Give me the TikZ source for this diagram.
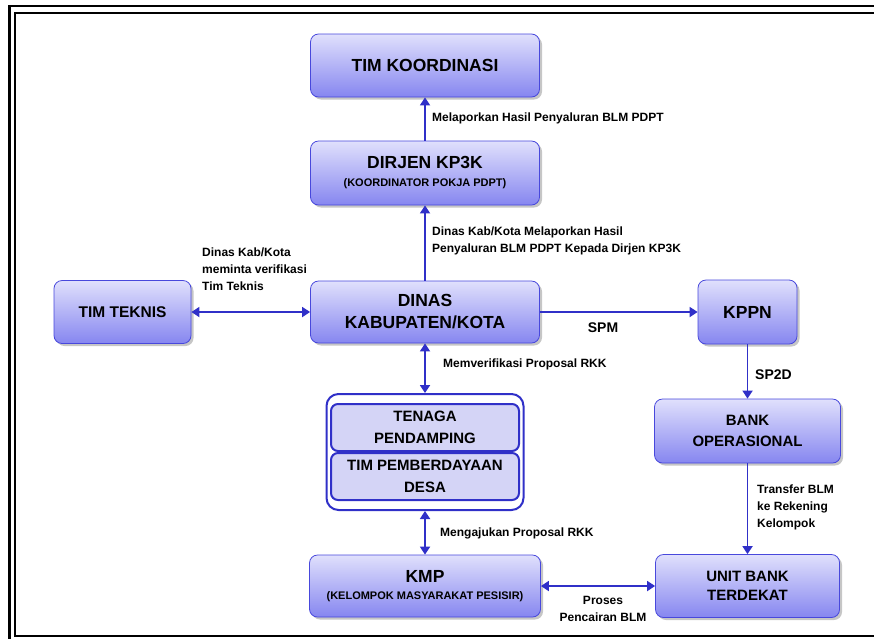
\documentclass[tikz,border=0pt]{standalone}
\usepackage{fontspec}
\setmainfont{Liberation Sans}
\usetikzlibrary{arrows.meta,shadows}
\definecolor{boxtop}{RGB}{224,224,252}
\definecolor{boxbot}{RGB}{134,134,240}
\definecolor{boxline}{RGB}{72,72,220}
\definecolor{arrblue}{RGB}{48,48,200}
\definecolor{innerfill}{RGB}{212,212,246}
\begin{document}
\begin{tikzpicture}[x=1pt,y=-1pt,>={Triangle[length=8pt,width=10pt]},
    box/.style={draw=boxline,line width=0.8pt,rounded corners=8pt,top color=boxtop,bottom color=boxbot,
        inner sep=0pt,align=center,font=\bfseries\fontsize{15}{21}\selectfont,
        drop shadow={shadow xshift=2.5pt,shadow yshift=-2.5pt,fill=gray!45,opacity=1}},
    bigtxt/.style={font=\bfseries\fontsize{17.5}{22}\selectfont},
    inbox/.style={draw=arrblue,line width=2pt,rounded corners=7pt,fill=innerfill,inner sep=0pt,
        minimum width=188pt,minimum height=47pt,align=center,font=\bfseries\fontsize{15}{22}\selectfont},
    arr/.style={draw=arrblue,line width=1.8pt},
    lbl/.style={font=\bfseries\fontsize{12}{17}\selectfont,inner sep=0pt,align=left}]
    \useasboundingbox (0,0) rectangle (874,638);
    % frame
    \draw[line width=2.5pt] (9.5,6) rectangle (900,660);
    \draw[line width=2pt] (14.5,13) rectangle (890,636);

    % boxes
    \node[box,bigtxt,minimum width=229pt,minimum height=63pt] (koord) at (425,65.5) {TIM KOORDINASI};
    \node[box,bigtxt,minimum width=229pt,minimum height=64pt] (dirjen) at (425,173)
        {DIRJEN KP3K\\[-4pt]{\fontsize{11}{13}\selectfont(KOORDINATOR POKJA PDPT)}};
    \node[box,bigtxt,minimum width=229pt,minimum height=62pt] (dinas) at (425,312) {DINAS\\KABUPATEN/KOTA};
    \node[box,font=\bfseries\fontsize{15.5}{21}\selectfont,minimum width=137pt,minimum height=63pt] (teknis) at (122.5,312) {TIM TEKNIS};
    \node[box,bigtxt,minimum width=99pt,minimum height=64pt] (kppn) at (747.5,312) {KPPN};
    \node[box,minimum width=186pt,minimum height=64pt] (bank) at (747.5,431) {BANK\\OPERASIONAL};
    \node[box,font=\bfseries\fontsize{15}{19}\selectfont,minimum width=184pt,minimum height=63pt] (unit) at (747.5,586) {UNIT BANK\\TERDEKAT};
    \node[box,bigtxt,minimum width=231pt,minimum height=62pt] (kmp) at (425,586)
        {KMP\\[-5pt]{\fontsize{11}{13}\selectfont(KELOMPOK MASYARAKAT PESISIR)}};
    \node[draw=arrblue,line width=2pt,rounded corners=12pt,fill=white,minimum width=197pt,minimum height=116pt] (grp) at (425,452) {};
    \node[inbox] (tenaga) at (425,427.5) {TENAGA\\PENDAMPING};
    \node[inbox] (desa) at (425,476.5) {TIM PEMBERDAYAAN\\DESA};

    % connectors
    \draw[arr,->] (dirjen) -- (koord);
    \draw[arr,->] (dinas) -- (dirjen);
    \draw[arr,<->] (teknis) -- (dinas);
    \draw[arr,->] (dinas) -- (kppn);
    \draw[arr,->] (kppn) -- (bank);
    \draw[arr,<->] (dinas) -- (grp);
    \draw[arr,<->] (grp) -- (kmp);
    \draw[arr,->] (bank) -- (unit);
    \draw[arr,<->] (kmp) -- (unit);

    % labels
    \node[lbl,anchor=west] (lapor) at (432,118) {Melaporkan Hasil Penyaluran BLM PDPT};
    \node[lbl,anchor=west] (laporkab) at (432,241) {Dinas Kab/Kota Melaporkan Hasil\\Penyaluran BLM PDPT Kepada Dirjen KP3K};
    \node[lbl,anchor=west] (minta) at (202,269.5) {Dinas Kab/Kota\\meminta verifikasi\\Tim Teknis};
    \node[lbl,font=\bfseries\fontsize{14}{17}\selectfont] (spm) at (603,328) {SPM};
    \node[lbl,anchor=west] (verif) at (443,364) {Memverifikasi Proposal RKK};
    \node[lbl,anchor=west,font=\bfseries\fontsize{14}{17}\selectfont] (sp2d) at (755,375) {SP2D};
    \node[lbl,anchor=west] (ajukan) at (440,533) {Mengajukan Proposal RKK};
    \node[lbl,anchor=west] (transfer) at (757,507) {Transfer BLM\\ke Rekening\\Kelompok};
    \node[lbl,align=center] (cair) at (603,608.5) {Proses\\Pencairan BLM};
\end{tikzpicture}
\end{document}
